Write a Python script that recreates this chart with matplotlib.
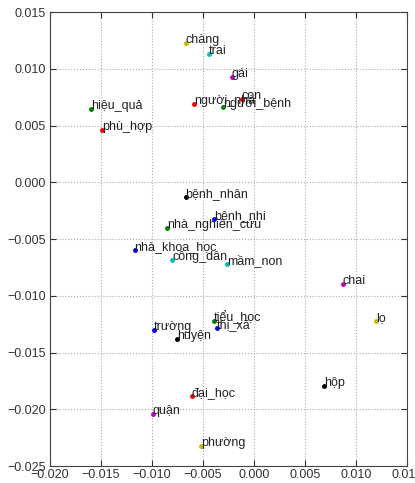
"""2-D projection of Vietnamese word vectors, one coloured dot per word."""
import matplotlib
matplotlib.use("Agg")
import matplotlib.pyplot as plt
from matplotlib.ticker import FuncFormatter
from cycler import cycler

# words in plotting order (colour cycle b g r c m y k repeats over them)
WORDS = [
    "bệnh_nhi", "người_bệnh", "người_nhà", "trai", "gái", "chàng", "bệnh_nhân",
    "nhà_khoa_học", "nhà_nghiên_cứu", "con", "công_dân", "chai", "lọ", "hộp",
    "trường", "tiểu_học", "đại_học", "mầm_non", "quận", "phường", "huyện",
    "thị_xã", "hiệu_quả", "phù_hợp",
]
X = [
    -0.0039, -0.0030, -0.0059, -0.0044, -0.0022, -0.0067, -0.0067,
    -0.0117, -0.0085, -0.0012, -0.0080, 0.0087, 0.0120, 0.0069,
    -0.0098, -0.0039, -0.0061, -0.0026, -0.0099, -0.0052, -0.0075,
    -0.0036, -0.0160, -0.0149,
]
Y = [
    -0.0032, 0.0066, 0.0069, 0.0113, 0.0093, 0.0123, -0.0013,
    -0.0060, -0.0040, 0.0073, -0.0068, -0.0090, -0.0122, -0.0179,
    -0.0130, -0.0122, -0.0188, -0.0072, -0.0204, -0.0232, -0.0138,
    -0.0128, 0.0065, 0.0046,
]
XTICKS = [-0.020, -0.015, -0.010, -0.005, 0.0, 0.005, 0.010, 0.015]
YTICKS = [-0.025, -0.020, -0.015, -0.010, -0.005, 0.0, 0.005, 0.010, 0.015]


def fmt(v, _pos):
    return f"{v:.3f}".replace("-", "\u2212")


plt.rcParams["font.family"] = ["Liberation Sans", "DejaVu Sans"]
plt.rcParams["axes.prop_cycle"] = cycler(color=list("bgrcmyk"))

fig = plt.figure(figsize=(4.15, 4.83), dpi=100)
ax = fig.add_axes([0.12, 0.035, 0.861, 0.94])

for w, x, y in zip(WORDS, X, Y):
    ax.plot(x, y, ".", markersize=5)
    ax.text(x, y, w, fontsize=9, color="#222222")

ax.set_xlim(-0.020, 0.015)
ax.set_ylim(-0.025, 0.015)
ax.set_xticks(XTICKS)
ax.set_yticks(YTICKS)
ax.xaxis.set_major_formatter(FuncFormatter(fmt))
ax.yaxis.set_major_formatter(FuncFormatter(fmt))
ax.tick_params(direction="in", top=True, right=True, labelsize=9, length=4,
               pad=3, colors="#333333")
ax.tick_params(axis="x", pad=2)
ax.grid(True, linestyle=":", color="#aaaaaa", linewidth=0.8)
for s in ax.spines.values():
    s.set_color("#444444")

fig.savefig("out.png", dpi=100)
